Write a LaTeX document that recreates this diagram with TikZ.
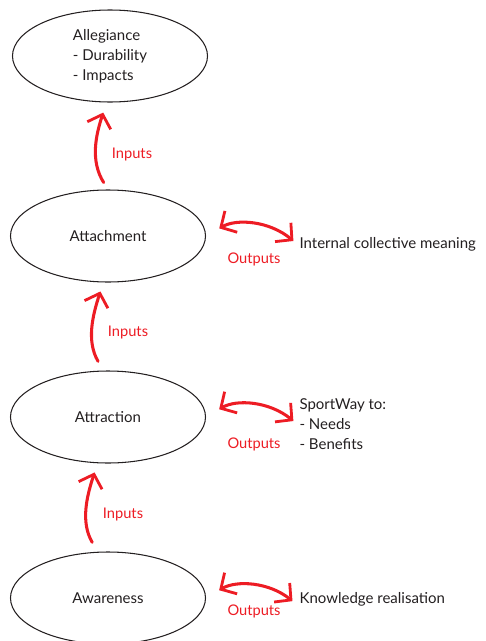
\documentclass[tikz,border=0pt]{standalone}
\usepackage{fontspec}
\setmainfont{Lato}
\usetikzlibrary{arrows.meta,shapes.geometric,positioning}
\definecolor{inkred}{RGB}{237,28,36}
\definecolor{inkdark}{RGB}{35,31,32}
\tikzset{
    stage/.style={ellipse,draw=inkdark,line width=0.9pt,minimum width=5.85cm,minimum height=2.76cm,inner sep=0pt,text=inkdark,align=left,font=\fontsize{12.8}{17}\selectfont},
    inarrow/.style={-{Straight Barb[length=10pt,width=21pt,line width=2.4pt]},line width=2.6pt,inkred,line cap=round},
    outarrow/.style={{Straight Barb[length=10pt,width=21pt,line width=2.4pt]}-{Straight Barb[length=10pt,width=21pt,line width=2.4pt]},line width=2.6pt,inkred,line cap=round},
    redlabel/.style={text=inkred,font=\fontsize{12.5}{17}\selectfont},
    result/.style={anchor=west,align=left,inner sep=2pt,text=inkdark,font=\fontsize{12.8}{17}\selectfont}
}

\begin{document}
\begin{tikzpicture}[x=0.03cm,y=-0.03cm]
    \useasboundingbox (0,0) rectangle (486,641);
    % Stages
    \node[stage] (allegiance) at (110,56) {Allegiance\\- Durability\\- Impacts};
    \node[stage] (attachment) at (108,236) {Attachment};
    \node[stage] (attraction) at (108,417) {Attraction};
    \node[stage] (awareness) at (108,598) {Awareness};
    % Results
    \node[result] (meaning) at (297,244) {Internal collective meaning};
    \node[result] (sportway) at (297,424) {SportWay to:\\- Needs\\- Benefits};
    \node[result] (knowledge) at (297,599) {Knowledge realisation};
    % Inputs
    \draw[inarrow,shorten <=7pt,shorten >=9pt] (attachment.north) to[out=122,in=-108] ([xshift=-3pt]allegiance.south);
    \draw[inarrow,shorten <=9pt,shorten >=8pt] ([xshift=-4pt]attraction.north) to[out=120,in=-108] ([xshift=-4pt]attachment.south);
    \draw[inarrow,shorten <=9pt,shorten >=8pt] ([xshift=-9pt]awareness.north) to[out=120,in=-108] ([xshift=-9pt]attraction.south);
    \node[redlabel] (in1) at (132,155) {Inputs};
    \node[redlabel] (in2) at (128,333) {Inputs};
    \node[redlabel] (in3) at (123,515) {Inputs};
    % Outputs
    \draw[outarrow,shorten <=13pt,shorten >=4pt] (attachment.east) to[bend left=35] (meaning.west);
    \draw[outarrow,shorten <=13pt,shorten >=4pt] (attraction.east) to[bend left=35] (sportway.west);
    \draw[outarrow,shorten <=13pt,shorten >=5pt] (awareness.east) to[bend left=35] ([yshift=-5pt]knowledge.west);
    \node[redlabel] (out1) at (254,259) {Outputs};
    \node[redlabel] (out2) at (254,444) {Outputs};
    \node[redlabel] (out3) at (254,611) {Outputs};
\end{tikzpicture}
\end{document}
